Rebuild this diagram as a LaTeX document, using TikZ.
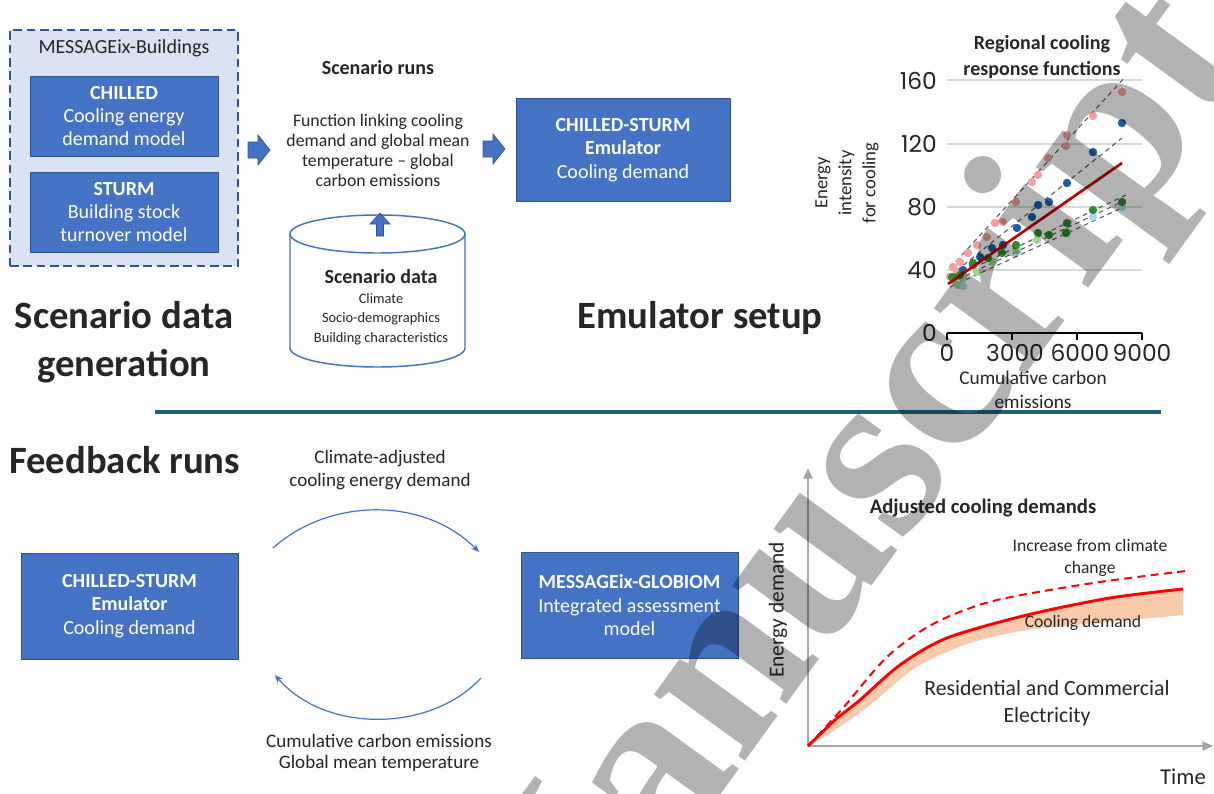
\documentclass[tikz,border=0pt]{standalone}
\usepackage{fontspec}
\setmainfont{Carlito}
\newfontfamily\numfont{Poppins}
\newfontfamily\wmfont{Liberation Serif}
\usetikzlibrary{arrows.meta}
\definecolor{boxblue}{HTML}{4472C4}
\definecolor{boxedge}{HTML}{2F528F}
\definecolor{lightbg}{HTML}{DAE3F3}
\definecolor{dashedge}{HTML}{2F5597}
\definecolor{sepline}{HTML}{1F5F7F}
\definecolor{txt}{HTML}{262626}
\definecolor{pinkpt}{HTML}{F2A0A0}
\definecolor{bluept}{HTML}{1F5E9E}
\definecolor{greenpt}{HTML}{2E8B2E}
\definecolor{lgreenpt}{HTML}{9AD88A}
\definecolor{lbluept}{HTML}{A9D6F0}
\definecolor{darkred}{HTML}{C00000}
\definecolor{bandfill}{HTML}{F8CBAD}
\definecolor{axisgrey}{HTML}{A6A6A6}
\definecolor{gridgrey}{HTML}{D9D9D9}
\definecolor{regrey}{HTML}{595959}
\tikzset{
  bluebox/.style={draw=boxedge, fill=boxblue, line width=0.75pt, text=white, align=center,
    font=\fontsize{15}{17.6}\selectfont, inner sep=0pt},
  blockarrow/.style={fill=boxblue, draw=boxedge, line width=0.5pt},
  plain/.style={text=txt, align=center, inner sep=0pt},
  heading/.style={text=txt, align=center, inner sep=0pt, font=\bfseries\fontsize{29}{36}\selectfont},
  numlbl/.style={text=txt, inner sep=0pt, font=\numfont\fontsize{17.5}{20}\selectfont},
  feedarc/.style={draw=boxblue, line width=0.9pt, -{Stealth[length=6pt,width=5pt]}},
  regline/.style={draw=regrey, line width=0.8pt, dash pattern=on 3.5pt off 3pt},
  wm/.style={text=black, opacity=0.3, inner sep=0pt, font=\wmfont\bfseries\fontsize{184}{184}\selectfont}
}
\begin{document}
\begin{tikzpicture}[x=0.75pt,y=-0.75pt]
\useasboundingbox (0,0) rectangle (1214,793);
\fill[white] (0,0) rectangle (1214,793);

% ---------- Scenario data generation ----------
\node[draw=dashedge, fill=lightbg, line width=1.5pt, dash pattern=on 6.5pt off 3.5pt,
      minimum width=171pt, minimum height=177pt, inner sep=0pt] (bld) at (124,148) {};
\node[plain, font=\fontsize{15}{16}\selectfont] (bldtitle) at (124,48) {MESSAGEix-Buildings};
\node[bluebox, minimum width=141pt, minimum height=60pt] (chilled) at (124,116)
  {\textbf{CHILLED}\\Cooling energy\\demand model};
\node[bluebox, minimum width=141pt, minimum height=60pt] (sturm) at (124,212)
  {\textbf{STURM}\\Building stock\\turnover model};

\node[heading] (hsdg) at (124,342) {Scenario data\\generation};

% arrow 1
\filldraw[blockarrow] (248,142) -- (258,142) -- (258,135) -- (270,150) -- (258,165) -- (258,158) -- (248,158) -- cycle;

% ---------- Scenario runs ----------
\node[plain, font=\bfseries\fontsize{15}{15}\selectfont] (srun) at (378,68) {Scenario runs};
\node[plain, font=\fontsize{13.3}{15}\selectfont] (func) at (378,150)
  {Function linking cooling\\demand and global mean\\temperature -- global\\carbon emissions};

% arrow 2
\filldraw[blockarrow] (483,141) -- (493,141) -- (493,134) -- (505,149) -- (493,164) -- (493,157) -- (483,157) -- cycle;

\node[bluebox, minimum width=160.5pt, minimum height=77pt] (emu) at (623,150)
  {\textbf{CHILLED-STURM}\\\textbf{Emulator}\\Cooling demand};

% cylinder
\filldraw[draw=boxblue, fill=white, line width=1.1pt]
  (290,234) -- (290,348) arc[start angle=180, end angle=0, x radius=87.5, y radius=19] -- (465,234);
\draw[draw=boxblue, fill=white, line width=1.1pt] (377.5,234) ellipse[x radius=87.5, y radius=19];
\node[plain, font=\fontsize{10.8}{14.3}\selectfont] (scdata) at (381,307)
  {{\bfseries\fontsize{15}{14.3}\selectfont Scenario data}\\[1pt]
   Climate\\Socio-demographics\\Building characteristics};
% up arrow
\filldraw[blockarrow] (376.5,236) -- (376.5,224) -- (370,224) -- (380,213) -- (390,224) -- (383.5,224) -- (383.5,236) -- cycle;

\node[heading] (hemu) at (700,318) {Emulator setup};

% ---------- Top chart ----------
\node[plain, font=\bfseries\fontsize{15}{19.5}\selectfont] (ctitle) at (1042,57) {Regional cooling\\response functions};
\foreach \yy in {80,144,207,270} \draw[gridgrey, line width=0.8pt] (947,\yy) -- (1142,\yy);
\node[numlbl, anchor=east] (l160) at (937,81) {160};
\node[numlbl, anchor=east] (l120) at (937,144) {120};
\node[numlbl, anchor=east] (l80) at (937,207) {80};
\node[numlbl, anchor=east] (l40) at (937,270) {40};
\node[numlbl, anchor=east] (l0) at (937,333) {0};
\coordinate (xa0) at (947,333);
\coordinate (xa9) at (1142,333);
\draw[black, line width=1.3pt] (xa0) -- (xa9);
\foreach \xx in {947,1012,1077,1142} \draw[black, line width=1.3pt] (\xx,333) -- (\xx,340);
\node[numlbl] (t0) at (947,353) {0};
\node[numlbl] (t3) at (1015,353) {3000};
\node[numlbl] (t6) at (1080,353) {6000};
\node[numlbl] (t9) at (1142,353) {9000};
\node[plain, font=\fontsize{14.5}{18}\selectfont] (xlab) at (1033,390) {Cumulative carbon\\emissions};
\node[plain, font=\fontsize{14}{18}\selectfont, rotate=90] (ylab) at (847,183) {Energy\\intensity\\for cooling};
% regression lines
\draw[regline] (950,268) -- (1126,76);
\draw[regline] (950,276) -- (1122,138);
\draw[regline] (950,279) -- (1126,195);
\draw[regline] (950,283) -- (1126,200);
\draw[regline] (950,287) -- (1126,206);
% points
\foreach \p in {(1122,92),(1093,116),(1067,135),(1066,146),(1048,158),(1038,175),(1032,182),(1016,202),(1003,222),(995,223),(987,237),(977,245),(968,253),(960,262),(953,267),(957,272),(950,277)}
  \fill[pinkpt] \p circle[radius=4.2];
\foreach \p in {(1067,232),(1037,240),(1017,250),(993,262),(977,272),(963,278),(953,280),(958,285)}
  \fill[lgreenpt] \p circle[radius=4.2];
\foreach \p in {(1093,217),(1122,207),(963,286)}
  \fill[lbluept] \p circle[radius=4.2];
\foreach \p in {(1122,123),(1093,152),(1067,183),(1049,202),(1038,205),(1032,217),(1017,228),(1003,245),(992,248),(980,257),(973,265),(963,270),(953,277)}
  \fill[bluept] \p circle[radius=4.2];
\foreach \p in {(1122,202),(1093,210),(1067,223),(1066,233),(1049,235),(1038,233),(1016,245),(1002,253),(988,258),(973,263),(960,275),(952,277)}
  \fill[greenpt] \p circle[radius=4.2];
\coordinate (rl0) at (948,284);
\coordinate (rl1) at (1122,163);
\draw[darkred, line width=2pt] (rl0) -- (rl1);

% separator
\coordinate (sepL) at (155,412);
\coordinate (sepR) at (1161,412);
\draw[sepline, line width=2.3pt] (sepL) -- (sepR);

% ---------- Feedback runs ----------
\node[heading, anchor=west] (hfb) at (9,460) {Feedback runs};
\node[plain, font=\fontsize{14.3}{17.3}\selectfont] (cadj) at (380,470) {Climate-adjusted\\cooling energy demand};
\node[bluebox, minimum width=162.75pt, minimum height=79.5pt] (emu2) at (129.5,606)
  {\textbf{CHILLED-STURM}\\\textbf{Emulator}\\Cooling demand};
\node[bluebox, minimum width=162.75pt, minimum height=79pt] (glob) at (629.5,605.5)
  {\textbf{MESSAGEix-GLOBIOM}\\Integrated assessment\\model};
\coordinate (a1s) at (273,548);
\coordinate (a1e) at (479,552);
\coordinate (a2s) at (481,678);
\coordinate (a2e) at (275,675);
\draw[feedarc] (a1s) .. controls (330,497) and (425,497) .. (a1e);
\draw[feedarc] (a2s) .. controls (430,733) and (325,733) .. (a2e);
\node[plain, font=\fontsize{14.3}{16}\selectfont] (cce) at (379,753) {Cumulative carbon emissions\\Global mean temperature};

% ---------- Bottom chart ----------
\coordinate (O) at (808,746);
\coordinate (ytop) at (808,468);
\coordinate (xend) at (1213,746);
\draw[axisgrey, line width=1.1pt, -{Triangle[length=8pt,width=7pt]}] (O) -- (ytop);
\draw[axisgrey, line width=1.1pt, -{Triangle[length=8pt,width=7pt]}] (O) -- (xend);
\node[plain, font=\bfseries\fontsize{15.5}{16}\selectfont] (adjt) at (983,508) {Adjusted cooling demands};
\node[plain, font=\fontsize{16}{16}\selectfont, rotate=90] (edl) at (778,610) {Energy demand};
\node[plain, font=\fontsize{17}{18}\selectfont] (timel) at (1183,777) {Time};
\fill[bandfill] plot[smooth] coordinates {(808,746)(835,720)(860,700)(900,665)(947,638)(1027,615)(1110,598)(1183,589)}
  -- plot[smooth] coordinates {(1183,615)(1110,622)(1027,630)(967,644)(915,668)(870,705)(835,730)(808,746)} -- cycle;
\draw[red, line width=2.2pt] plot[smooth] coordinates {(808,746)(835,720)(860,700)(900,665)(947,638)(1027,615)(1110,598)(1183,589)};
\draw[red, line width=1.5pt, dash pattern=on 6pt off 4pt] plot[smooth] coordinates {(808,746)(843,708)(887,657)(933,624)(993,601)(1093,583)(1186,571)};
\node[plain, font=\fontsize{13.2}{16.5}\selectfont] (incr) at (1090,558) {Increase from climate\\change};
\node[plain, font=\fontsize{13.2}{14}\selectfont] (cdl) at (1083,623) {Cooling demand};
\node[plain, font=\fontsize{16.3}{20}\selectfont] (resl) at (1047,703) {Residential and Commercial\\Electricity};

% ---------- watermark ----------
\node[wm, rotate=54, anchor=base west] (wmark) at (533,1053) {Manuscript};
\end{tikzpicture}
\end{document}
